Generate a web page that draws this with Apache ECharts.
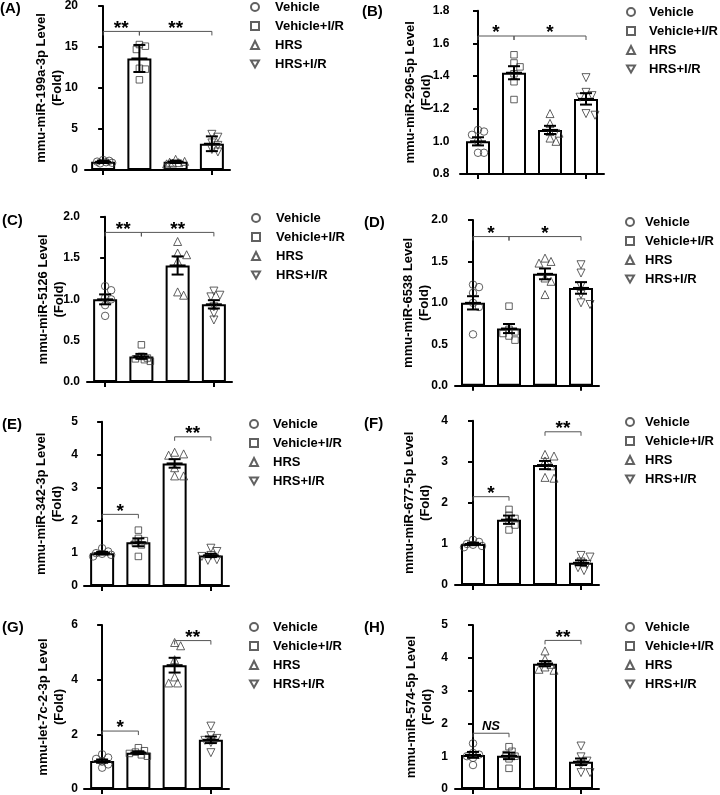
<!DOCTYPE html>
<html>
<head>
<meta charset="utf-8">
<script src="https://cdn.jsdelivr.net/npm/echarts@6/dist/echarts.min.js"></script>
<style>
html,body{margin:0;padding:0;background:#fff;}
#chart{width:720px;height:795px;}
</style>
</head>
<body>
<div id="chart"></div>
<script>
// ---------------- DATA ----------------
const categories = ['Vehicle', 'Vehicle+I/R', 'HRS', 'HRS+I/R'];
const panelLetters = ['(A)', '(B)', '(C)', '(D)', '(E)', '(F)', '(G)', '(H)'];
const yNames = [
  'mmu-miR-199a-3p Level\n(Fold)',
  'mmu-miR-296-5p Level\n(Fold)',
  'mmu-miR-5126 Level\n(Fold)',
  'mmu-miR-6538 Level\n(Fold)',
  'mmu-miR-342-3p Level\n(Fold)',
  'mmu-miR-677-5p Level\n(Fold)',
  'mmu-let-7c-2-3p Level\n(Fold)',
  'mmu-miR-574-5p Level\n(Fold)'
];
// y axis [min, max, interval, decimals]
const yTicksA = [0, 20, 5, 0];
const yTicksB = [0.8, 1.8, 0.2, 1];
const yTicksC = [0, 2, 0.5, 1];
const yTicksD = [0, 2, 0.5, 1];
const yTicksE = [0, 5, 1, 0];
const yTicksF = [0, 4, 1, 0];
const yTicksG = [0, 6, 2, 0];
const yTicksH = [0, 5, 1, 0];

// bar means and error bars
const meansA = [1.0, 13.6, 1.0, 3.2];   const errsA = [0.15, 1.65, 0.15, 0.9];
const meansB = [1.0, 1.42, 1.07, 1.26]; const errsB = [0.025, 0.04, 0.025, 0.035];
const meansC = [1.0, 0.31, 1.41, 0.94]; const errsC = [0.06, 0.03, 0.11, 0.05];
const meansD = [1.0, 0.69, 1.35, 1.18]; const errsD = [0.08, 0.055, 0.065, 0.07];
const meansE = [1.0, 1.33, 3.73, 0.93]; const errsE = [0.04, 0.12, 0.13, 0.05];
const meansF = [1.0, 1.59, 2.92, 0.54]; const errsF = [0.03, 0.1, 0.1, 0.06];
const meansG = [1.02, 1.33, 4.53, 1.8]; const errsG = [0.06, 0.05, 0.27, 0.12];
const meansH = [1.04, 1.01, 3.82, 0.83]; const errsH = [0.09, 0.1, 0.08, 0.1];

// individual points (Vehicle, Vehicle+I/R, HRS, HRS+I/R)
const pointsA = [[1.22, 1.12, 1.02, 0.95, 0.88, 0.81], [15.3, 15.1, 14.7, 12.4, 12.3, 11.0], [1.3, 1.05, 0.95, 0.9, 0.85, 0.75], [4.35, 4.0, 3.3, 3.0, 2.5, 2.2]];
const pointsB = [[1.07, 1.06, 1.04, 1.0, 0.93, 0.93], [1.53, 1.48, 1.456, 1.414, 1.365, 1.256], [1.17, 1.11, 1.06, 1.05, 1.02, 1.0], [1.39, 1.30, 1.28, 1.27, 1.17, 1.16]];
const pointsC = [[1.16, 1.11, 1.02, 1.0, 0.93, 0.80], [0.45, 0.31, 0.29, 0.28, 0.27, 0.25], [1.70, 1.56, 1.54, 1.46, 1.09, 1.05], [1.10, 1.05, 1.03, 0.91, 0.83, 0.75]];
const pointsD = [[1.22, 1.19, 1.12, 1.0, 0.95, 0.62], [0.96, 0.68, 0.65, 0.63, 0.6, 0.55], [1.54, 1.50, 1.48, 1.30, 1.26, 1.10], [1.46, 1.36, 1.20, 1.10, 1.00, 0.98]];
const pointsE = [[1.15, 1.05, 1.0, 0.98, 0.95, 0.9], [1.70, 1.45, 1.38, 1.30, 1.25, 0.90], [4.07, 4.02, 3.98, 3.60, 3.35, 3.35], [1.15, 1.05, 0.93, 0.9, 0.8, 0.78]];
const pointsF = [[1.1, 1.05, 1.0, 0.98, 0.95, 0.92], [1.84, 1.70, 1.62, 1.55, 1.46, 1.34], [3.18, 3.14, 3.02, 2.9, 2.62, 2.6], [0.72, 0.68, 0.56, 0.5, 0.42, 0.35]];
const pointsG = [[1.27, 1.15, 1.1, 1.0, 0.9, 0.78], [1.51, 1.4, 1.35, 1.3, 1.25, 1.2], [5.36, 5.24, 4.73, 4.10, 3.88, 3.88], [2.30, 1.95, 1.85, 1.78, 1.70, 1.33]];
const pointsH = [[1.39, 1.1, 1.05, 1.0, 0.95, 0.73], [1.29, 1.15, 1.05, 1.0, 0.92, 0.63], [4.21, 3.96, 3.8, 3.72, 3.65, 3.62], [1.31, 0.98, 0.85, 0.75, 0.5, 0.5]];

// significance brackets: [fromCategory, toCategory, yValue, label]
const sigA = [[0, 1, 16.9, '**'], [1, 3, 16.9, '**']];
const sigB = [[0, 1, 1.645, '*'], [1, 3, 1.645, '*']];
const sigC = [[0, 1, 1.81, '**'], [1, 3, 1.81, '**']];
const sigD = [[0, 1, 1.8, '*'], [1, 3, 1.8, '*']];
const sigE = [[0, 1, 2.18, '*'], [2, 3, 4.54, '**']];
const sigF = [[0, 1, 2.15, '*'], [2, 3, 3.73, '**']];
const sigG = [[0, 1, 2.12, '*'], [2, 3, 5.43, '**']];
const sigH = [[0, 1, 1.70, 'NS'], [2, 3, 4.53, '**']];

// ---------------- LAYOUT / STYLE ----------------
const FONT = '"Liberation Sans", Arial, sans-serif';
const layout = [
  {l: 85, t: 6, w: 145, h: 164, off: 0, gap: 20, lab: [0, 1], leg: [254, 7, 274]},
  {l: 460, t: 10.7, w: 144, h: 163.3, off: 3.5, gap: 22, lab: [362, 4], leg: [630, 12, 648]},
  {l: 87, t: 216.7, w: 145, h: 165.3, off: 0, gap: 20, lab: [2, 213], leg: [255, 218, 275]},
  {l: 455, t: 220, w: 144, h: 165.7, off: 0, gap: 23, lab: [364, 215], leg: [629, 222, 644]},
  {l: 84, t: 421.7, w: 145, h: 164.3, off: -1, gap: 20, lab: [2, 417], leg: [253, 424, 272]},
  {l: 455, t: 420.7, w: 144, h: 164.3, off: 0, gap: 22, lab: [364, 416], leg: [629, 422, 644]},
  {l: 84, t: 625, w: 145, h: 165, off: -1, gap: 18, lab: [2, 620], leg: [253, 627, 272]},
  {l: 455, t: 625, w: 144, h: 165, off: 0, gap: 20, lab: [364, 620], leg: [629, 627, 644]}
];
const symbols = ['circle', 'rect', 'triangle', 'path://M0,0L10,0L5,8.66Z'];
const symSizes = [7.5, 6.5, 8, 8];

const yTicks = [yTicksA, yTicksB, yTicksC, yTicksD, yTicksE, yTicksF, yTicksG, yTicksH];
const means = [meansA, meansB, meansC, meansD, meansE, meansF, meansG, meansH];
const errs = [errsA, errsB, errsC, errsD, errsE, errsF, errsG, errsH];
const points = [pointsA, pointsB, pointsC, pointsD, pointsE, pointsF, pointsG, pointsH];
const sigs = [sigA, sigB, sigC, sigD, sigE, sigF, sigG, sigH];

// compact scatter spreading (layout only): returns x offsets in category units
function swarm(vals, pxPerUnit, pxPerCat, d) {
  const placed = [];
  const out = [];
  const cands = [0, 3, -3, 6, -6, 9, -9];
  const minD = d * 0.8;
  vals.forEach(v => {
    const y = v * pxPerUnit;
    let chosen = null, best = -1, bestC = 0;
    for (const c of cands) {
      let md = Infinity;
      for (const p of placed) {
        const dd = Math.hypot(p[0] - c, p[1] - y);
        if (dd < md) md = dd;
      }
      if (md >= minD) { chosen = c; break; }
      if (md > best) { best = md; bestC = c; }
    }
    if (chosen === null) chosen = bestC;
    placed.push([chosen, y]);
    out.push(chosen / pxPerCat);
  });
  return out;
}

const grid = [], xAxis = [], yAxis = [], series = [], legend = [], graphic = [];

for (let i = 0; i < 8; i++) {
  const L = layout[i];
  const [ymin, ymax, yint, dec] = yTicks[i];
  grid.push({left: L.l, top: L.t, width: L.w, height: L.h, containLabel: false});
  xAxis.push({
    type: 'category', gridIndex: i, data: categories, boundaryGap: true,
    axisLine: {show: true, lineStyle: {color: '#000', width: 2}},
    axisTick: {show: true, alignWithLabel: true, length: 5, lineStyle: {color: '#000', width: 2}},
    axisLabel: {show: false}, splitLine: {show: false}
  });
  yAxis.push({
    type: 'value', gridIndex: i, min: ymin, max: ymax, interval: yint, offset: L.off,
    name: yNames[i], nameLocation: 'middle', nameGap: L.gap, nameRotate: 90,
    nameMoveOverlap: false,
    nameTextStyle: {fontFamily: FONT, fontWeight: 'bold', fontSize: 13, lineHeight: 16, color: '#000'},
    axisLine: {show: true, lineStyle: {color: '#000', width: 2}},
    axisTick: {show: true, length: 5, lineStyle: {color: '#000', width: 2}},
    axisLabel: {fontFamily: FONT, fontWeight: 'bold', fontSize: 12, color: '#000', margin: 7,
      formatter: v => Number(v).toFixed(dec)},
    splitLine: {show: false}
  });
}
for (let i = 0; i < 8; i++) {
  xAxis.push({type: 'value', gridIndex: i, min: -0.5, max: 3.5, show: false});
}

for (let i = 0; i < 8; i++) {
  const L = layout[i];
  const [ymin, ymax] = yTicks[i];
  const pxPerUnit = L.h / (ymax - ymin);
  const pxPerCat = L.w / 4;
  series.push({
    type: 'bar', xAxisIndex: i, yAxisIndex: i, data: means[i], barWidth: 24, silent: true, z: 2,
    itemStyle: {color: '#fff', borderColor: '#000', borderWidth: 2}
  });
  for (let g = 0; g < 4; g++) {
    const vals = points[i][g];
    const xs = swarm(vals, pxPerUnit, pxPerCat, symSizes[g]);
    series.push({
      type: 'scatter', name: categories[g], xAxisIndex: 8 + i, yAxisIndex: i, z: 3, silent: true,
      symbol: symbols[g], symbolSize: symSizes[g],
      itemStyle: {color: 'rgba(255,255,255,0)', borderColor: '#3a3a3a', borderWidth: 1},
      data: vals.map((v, k) => [g + xs[k], v])
    });
  }
  series.push({
    type: 'custom', xAxisIndex: i, yAxisIndex: i, z: 4, silent: true,
    data: means[i].map((m, k) => [k, m, errs[i][k]]),
    renderItem: function (params, api) {
      const x = api.value(0), m = api.value(1), e = api.value(2);
      const top = api.coord([x, m + e]);
      const bot = api.coord([x, m - e]);
      const mid = api.coord([x, m]);
      const hw = 6;
      const st = {stroke: '#000', lineWidth: 2};
      return {type: 'group', children: [
        {type: 'line', shape: {x1: top[0], y1: top[1], x2: bot[0], y2: bot[1]}, style: st},
        {type: 'line', shape: {x1: top[0] - hw, y1: top[1], x2: top[0] + hw, y2: top[1]}, style: st},
        {type: 'line', shape: {x1: bot[0] - hw, y1: bot[1], x2: bot[0] + hw, y2: bot[1]}, style: st},
        {type: 'line', shape: {x1: mid[0] - 8, y1: mid[1], x2: mid[0] + 8, y2: mid[1]}, style: st}
      ]};
    }
  });
  const sg = sigs[i];
  series.push({
    type: 'custom', xAxisIndex: i, yAxisIndex: i, z: 5, silent: true,
    data: sg.map(s => [s[0], s[1], s[2]]),
    renderItem: function (params, api) {
      const a = api.coord([api.value(0), api.value(2)]);
      const b = api.coord([api.value(1), api.value(2)]);
      const label = sg[params.dataIndex][3];
      const leg = 4;
      const st = {stroke: '#555', lineWidth: 1};
      const isNS = label === 'NS';
      return {type: 'group', children: [
        {type: 'polyline', shape: {points: [[a[0], a[1] + leg], [a[0], a[1]], [b[0], b[1]], [b[0], b[1] + leg]]}, style: Object.assign({fill: null}, st)},
        {type: 'text', x: (a[0] + b[0]) / 2, y: isNS ? a[1] - 7 : a[1] - 3,
          style: {text: label, fill: '#000', align: 'center', verticalAlign: 'middle',
            font: isNS ? 'italic bold 13px ' + FONT : 'bold 19px ' + FONT}}
      ]};
    }
  });
  const [lx, ly, tx] = L.leg;
  legend.push({
    show: true, orient: 'vertical', left: lx - 4, top: ly - 7, padding: 0, itemGap: 5,
    itemWidth: 8, itemHeight: 8, selectedMode: false, data: categories,
    textStyle: {fontFamily: FONT, fontWeight: 'bold', fontSize: 13, color: '#000', lineHeight: 14,
      padding: [0, 0, 0, Math.max(0, tx - (lx + 4 + 5))]}
  });
  graphic.push({type: 'text', left: L.lab[0], top: L.lab[1],
    style: {text: panelLetters[i], font: 'bold 15px ' + FONT, fill: '#000'}});
}

const chart = echarts.init(document.getElementById('chart'), null, {renderer: 'canvas'});
chart.setOption({
  animation: false,
  backgroundColor: '#fff',
  grid, xAxis, yAxis, series, legend, graphic
});
</script>
</body>
</html>
